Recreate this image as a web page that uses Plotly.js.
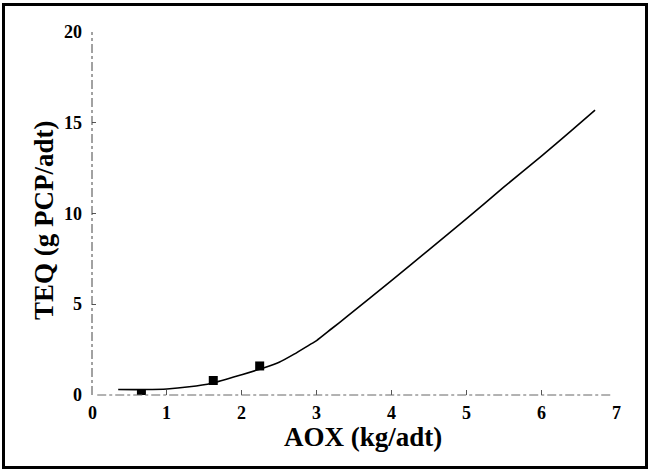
<!DOCTYPE html>
<html>
<head>
<meta charset="utf-8">
<script src="https://cdn.plot.ly/plotly-3.0.1.min.js"></script>
<style>
html,body{margin:0;padding:0;background:#fff;}
#wrap{position:relative;width:651px;height:472px;}
#chart{position:absolute;left:0;top:0;width:651px;height:472px;}
#chart text{font-weight:700 !important;}
#frame{position:absolute;left:2px;top:3px;width:640px;height:460px;border:3px solid #000;pointer-events:none;}
</style>
</head>
<body>
<div id="wrap"><div id="chart"></div><div id="frame"></div></div>
<script>
// Measured data points
const aoxPoints = [0.66, 1.62, 2.24];
const teqPoints = [0.05, 0.8, 1.6];
// Fitted curve
const aoxCurve = [0.35, 0.7, 1.0, 1.3, 1.6, 2.0, 2.3, 2.5, 2.7, 2.9, 3.0, 3.2, 3.4, 4.0, 4.5, 5.0, 5.5, 6.0, 6.4, 6.72];
const teqCurve = [0.3, 0.3, 0.33, 0.45, 0.65, 1.12, 1.5, 1.8, 2.25, 2.75, 3.0, 3.65, 4.3, 6.3, 8.0, 9.7, 11.45, 13.15, 14.55, 15.7];
const xTicks = [0, 1, 2, 3, 4, 5, 6, 7];
const yTicks = [0, 5, 10, 15, 20];
const xTitle = 'AOX (kg/adt)';
const yTitle = 'TEQ (g PCP/adt)';

const fam = 'Liberation Serif';
const tickFont = {family: fam, size: 18, color: '#000', weight: 'bold'};
const titleFont = {family: fam, size: 27, color: '#000', weight: 'bold'};

const traces = [
  {x: aoxCurve, y: teqCurve, mode: 'lines', line: {color: '#000', width: 1.6, shape: 'spline', smoothing: 0.6}, hoverinfo: 'skip'},
  {x: aoxPoints, y: teqPoints, mode: 'markers', marker: {symbol: 'square', size: 9, color: '#000'}}
];

const annotations = [];
xTicks.forEach(v => annotations.push({
  text: '<b>' + v + '</b>', x: v, xref: 'x', y: 0, yref: 'paper',
  xanchor: 'center', yanchor: 'top', yshift: -6, showarrow: false, font: tickFont
}));
yTicks.forEach(v => annotations.push({
  text: '<b>' + v + '</b>', x: 0, xref: 'paper', y: v, yref: 'y',
  xanchor: 'right', yanchor: 'middle', xshift: -8, showarrow: false, font: tickFont
}));
annotations.push({
  text: '<b>' + xTitle + '</b>', x: 0.517, xref: 'paper', y: -0.116, yref: 'paper',
  xanchor: 'center', yanchor: 'middle', showarrow: false, font: titleFont
});
annotations.push({
  text: '<b>' + yTitle + '</b>', x: -0.0916, xref: 'paper', y: 0.482, yref: 'paper',
  xanchor: 'center', yanchor: 'middle', textangle: -90, showarrow: false, font: titleFont
});

const layout = {
  width: 651, height: 472,
  margin: {l: 92, r: 35, t: 32, b: 77},
  paper_bgcolor: '#fff', plot_bgcolor: '#fff',
  showlegend: false,
  font: {family: fam, size: 18, color: '#000'},
  xaxis: {
    range: [0, 7], tickvals: xTicks, showticklabels: false,
    showgrid: false, zeroline: false, showline: false,
    ticks: 'inside', ticklen: 5, tickcolor: '#555'
  },
  yaxis: {
    range: [0, 20], tickvals: yTicks, showticklabels: false,
    showgrid: false, zeroline: false, showline: false,
    ticks: 'inside', ticklen: 4, tickcolor: '#555'
  },
  annotations: annotations,
  shapes: [
    {type: 'line', xref: 'paper', yref: 'paper', x0: 0, x1: 0, y0: 0, y1: 1, line: {color: '#444', width: 1, dash: 'dashdot'}},
    {type: 'line', xref: 'paper', yref: 'paper', x0: 0.01, x1: 0.99, y0: 0, y1: 0, line: {color: '#666', width: 1, dash: 'dashdot'}}
  ]
};

Plotly.newPlot('chart', traces, layout, {staticPlot: true, displayModeBar: false});
</script>
</body>
</html>
